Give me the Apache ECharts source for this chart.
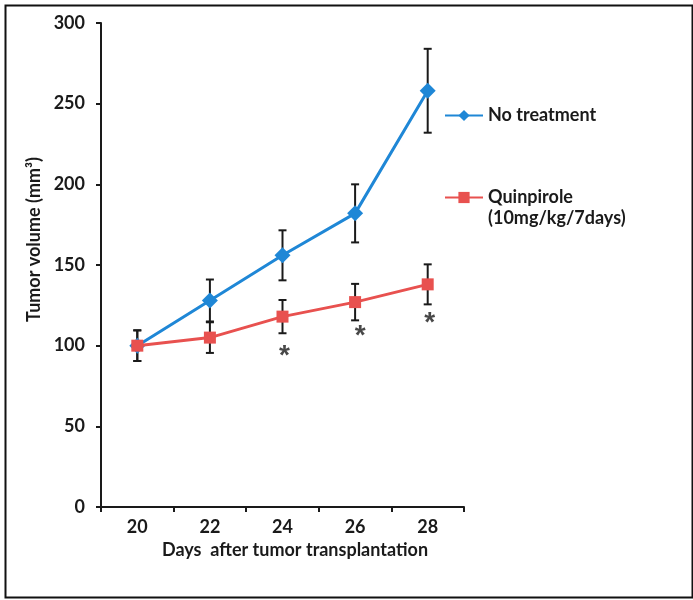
<!DOCTYPE html>
<html>
<head>
<meta charset="utf-8">
<script src="https://cdn.jsdelivr.net/npm/echarts@6/dist/echarts.min.js"></script>
<style>html,body{margin:0;padding:0;background:#fff;}#c{width:693px;height:600px;}</style>
</head>
<body>
<div id="c"></div>
<script>
var days = ['20', '22', '24', '26', '28'];
var noTreatment = [100, 128, 156, 182, 258];
var noTreatmentErr = [9.5, 13, 15.5, 18, 26];
var quinpirole = [100, 105, 118, 127, 138];
var quinpiroleErr = [9.5, 9.5, 10.3, 11.3, 12.4];
var asteriskDays = ['24', '26', '28'];
var asteriskY = [98, 110, 118];
var yTicks = [0, 50, 100, 150, 200, 250, 300];

var FONT = 'Lato';
var blue = '#1f87d6';
var red = '#e8514f';

function errData(vals, errs) {
  return vals.map(function (v, i) { return [i, v - errs[i], v + errs[i]]; });
}
function renderErr(params, api) {
  var x = api.value(0);
  var lo = api.coord([x, api.value(1)]);
  var hi = api.coord([x, api.value(2)]);
  var w = 4;
  var st = { stroke: '#1a1a1a', lineWidth: 2 };
  return {
    type: 'group',
    children: [
      { type: 'line', shape: { x1: hi[0], y1: hi[1], x2: lo[0], y2: lo[1] }, style: st },
      { type: 'line', shape: { x1: hi[0] - w, y1: hi[1], x2: hi[0] + w, y2: hi[1] }, style: st },
      { type: 'line', shape: { x1: lo[0] - w, y1: lo[1], x2: lo[0] + w, y2: lo[1] }, style: st }
    ]
  };
}

var chart = echarts.init(document.getElementById('c'), null, { renderer: 'canvas' });
chart.setOption({
  animation: false,
  backgroundColor: '#fff',
  textStyle: { fontFamily: FONT },
  grid: { left: 101, top: 23, right: 229, bottom: 93 },
  legend: {
    orient: 'vertical',
    left: 444,
    top: 105,
    padding: 0,
    itemWidth: 38,
    itemHeight: 14,
    itemGap: 40,
    formatter: function (name) { return name.indexOf('Quinpirole') === 0 ? '\n' + name : name; },
    textStyle: { fontFamily: FONT, fontWeight: 'bold', fontSize: 18, color: '#1a1a1a', lineHeight: 21 },
    data: ['No treatment', 'Quinpirole\n(10mg/kg/7days)']
  },
  xAxis: {
    type: 'category',
    data: days,
    boundaryGap: true,
    axisLine: { lineStyle: { color: '#1a1a1a', width: 2 } },
    axisTick: { show: true, length: 5, lineStyle: { color: '#1a1a1a', width: 2 } },
    axisLabel: { margin: 11, fontFamily: FONT, fontWeight: 'bold', fontSize: 18, color: '#1a1a1a' },
    name: 'Days  after tumor transplantation',
    nameLocation: 'middle',
    nameGap: 33,
    nameTextStyle: { fontFamily: FONT, fontWeight: 'bold', fontSize: 18, color: '#1a1a1a', verticalAlign: 'top', padding: [0, 0, 0, 25] },
    splitLine: { show: false }
  },
  yAxis: {
    type: 'value',
    min: yTicks[0],
    max: yTicks[yTicks.length - 1],
    interval: yTicks[1] - yTicks[0],
    axisLine: { show: true, lineStyle: { color: '#1a1a1a', width: 2 } },
    axisTick: { show: true, length: 5, lineStyle: { color: '#1a1a1a', width: 2 } },
    axisLabel: { margin: 16, fontFamily: FONT, fontWeight: 'bold', fontSize: 18, color: '#1a1a1a' },
    splitLine: { show: false }
  },
  graphic: [
    { type: 'rect', left: 3, top: 3, shape: { width: 687, height: 592 }, style: { fill: 'none', stroke: '#111', lineWidth: 2 }, z: 100 },
    { type: 'text', left: 25, top: 157, rotation: Math.PI / 2,
      style: { text: 'Tumor volume (mm³)', font: 'bold 18px ' + FONT, fill: '#1a1a1a' } }
  ],
  series: [
    { type: 'custom', name: 'errNo', renderItem: renderErr, data: errData(noTreatment, noTreatmentErr),
      encode: { x: 0, y: [1, 2] }, z: 1, silent: true },
    { type: 'custom', name: 'errQ', renderItem: renderErr, data: errData(quinpirole, quinpiroleErr),
      encode: { x: 0, y: [1, 2] }, z: 1, silent: true },
    { type: 'line', name: 'No treatment', data: noTreatment, symbol: 'diamond', symbolSize: 16,
      itemStyle: { color: blue }, lineStyle: { color: blue, width: 3 }, z: 3 },
    { type: 'line', name: 'Quinpirole\n(10mg/kg/7days)', data: quinpirole, symbol: 'rect', symbolSize: 12,
      itemStyle: { color: red }, lineStyle: { color: red, width: 3 }, z: 4 },
    { type: 'scatter', name: 'sig', symbolSize: 1, itemStyle: { color: 'rgba(0,0,0,0)' }, silent: true,
      data: asteriskDays.map(function (d, i) {
        return i === 1 ? { value: [d, asteriskY[i]], label: { offset: [5, 7] } } : [d, asteriskY[i]];
      }),
      label: { show: true, position: 'inside', formatter: '*', fontFamily: 'Liberation Sans', fontWeight: 'bold', fontSize: 28, color: '#1a1a1a', offset: [2, 7] } }
  ]
});
</script>
</body>
</html>
